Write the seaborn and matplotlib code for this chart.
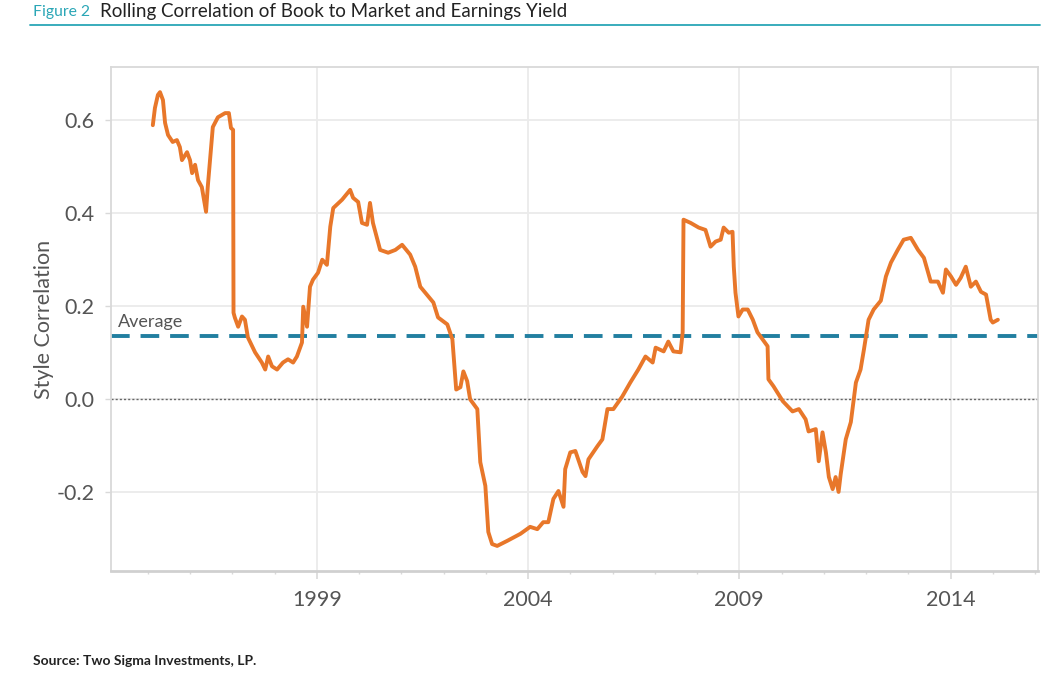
import numpy as np
import pandas as pd
import matplotlib
matplotlib.use("Agg")
import matplotlib.pyplot as plt
from matplotlib.lines import Line2D
from matplotlib.ticker import FuncFormatter, MultipleLocator
import seaborn as sns

# ---- data ----
years = [
    1995.12, 1995.17, 1995.24, 1995.29, 1995.36, 1995.41, 1995.48, 1995.59, 1995.69, 1995.76,
    1995.81, 1995.93, 1996.00, 1996.05, 1996.12, 1996.19, 1996.28, 1996.38, 1996.42, 1996.50,
    1996.54, 1996.66, 1996.83, 1996.92, 1996.97, 1997.02, 1997.03, 1997.06, 1997.14, 1997.23,
    1997.30, 1997.37, 1997.54, 1997.70, 1997.78, 1997.85, 1997.94, 1998.06, 1998.20, 1998.32,
    1998.44, 1998.53, 1998.65, 1998.68, 1998.77, 1998.84, 1998.91, 1999.03, 1999.13, 1999.24,
    1999.32, 1999.39, 1999.60, 1999.79, 1999.86, 1999.98, 2000.07, 2000.19, 2000.26, 2000.33,
    2000.50, 2000.69, 2000.86, 2001.02, 2001.21, 2001.33, 2001.45, 2001.76, 2001.87, 2002.09,
    2002.21, 2002.30, 2002.40, 2002.47, 2002.56, 2002.63, 2002.80, 2002.87, 2002.99, 2003.06,
    2003.15, 2003.27, 2003.51, 2003.82, 2004.05, 2004.22, 2004.36, 2004.48, 2004.60, 2004.72,
    2004.84, 2004.88, 2005.00, 2005.12, 2005.29, 2005.36, 2005.43, 2005.64, 2005.76, 2005.88,
    2006.02, 2006.23, 2006.42, 2006.61, 2006.78, 2006.95, 2007.02, 2007.21, 2007.32, 2007.44,
    2007.61, 2007.66, 2007.68, 2007.85, 2008.04, 2008.20, 2008.32, 2008.44, 2008.56, 2008.63,
    2008.75, 2008.84, 2008.87, 2008.91, 2008.98, 2009.08, 2009.20, 2009.32, 2009.43, 2009.55,
    2009.67, 2009.69, 2009.81, 2010.03, 2010.26, 2010.41, 2010.57, 2010.64, 2010.81, 2010.88,
    2010.97, 2011.05, 2011.12, 2011.21, 2011.28, 2011.35, 2011.40, 2011.52, 2011.64, 2011.76,
    2011.87, 2011.95, 2012.06, 2012.18, 2012.35, 2012.47, 2012.59, 2012.75, 2012.89, 2013.06,
    2013.23, 2013.37, 2013.53, 2013.70, 2013.82, 2013.89, 2014.01, 2014.13, 2014.24, 2014.36,
    2014.48, 2014.60, 2014.72, 2014.84, 2014.95, 2015.00, 2015.12,
]
correlation = [
    0.589, 0.626, 0.654, 0.660, 0.643, 0.594, 0.568, 0.553, 0.557, 0.542,
    0.514, 0.531, 0.514, 0.486, 0.504, 0.471, 0.456, 0.403, 0.456, 0.542,
    0.585, 0.606, 0.615, 0.615, 0.583, 0.579, 0.186, 0.176, 0.156, 0.178,
    0.171, 0.133, 0.101, 0.079, 0.064, 0.092, 0.071, 0.064, 0.079, 0.086,
    0.079, 0.092, 0.122, 0.199, 0.156, 0.242, 0.257, 0.272, 0.300, 0.289,
    0.371, 0.411, 0.429, 0.450, 0.433, 0.424, 0.379, 0.375, 0.422, 0.379,
    0.321, 0.315, 0.321, 0.332, 0.311, 0.285, 0.242, 0.208, 0.176, 0.161,
    0.129, 0.021, 0.026, 0.060, 0.039, 0.000, -0.021, -0.135, -0.186, -0.285,
    -0.311, -0.315, -0.304, -0.289, -0.274, -0.279, -0.264, -0.264, -0.214, -0.197,
    -0.231, -0.150, -0.114, -0.111, -0.156, -0.165, -0.129, -0.101, -0.086, -0.021,
    -0.021, 0.006, 0.036, 0.064, 0.092, 0.079, 0.111, 0.103, 0.124, 0.103,
    0.101, 0.144, 0.386, 0.379, 0.369, 0.364, 0.328, 0.339, 0.343, 0.369,
    0.358, 0.360, 0.285, 0.229, 0.178, 0.193, 0.193, 0.171, 0.144, 0.129,
    0.114, 0.043, 0.028, -0.004, -0.026, -0.021, -0.043, -0.069, -0.064, -0.133,
    -0.071, -0.114, -0.167, -0.193, -0.167, -0.199, -0.161, -0.086, -0.049, 0.036,
    0.064, 0.107, 0.171, 0.193, 0.212, 0.264, 0.294, 0.321, 0.343, 0.347,
    0.321, 0.304, 0.253, 0.253, 0.229, 0.279, 0.264, 0.246, 0.261, 0.285,
    0.242, 0.253, 0.231, 0.225, 0.171, 0.165, 0.171,
]
average_value = 0.137
x_ticks = [1999, 2004, 2009, 2014]
y_ticks = [-0.2, 0.0, 0.2, 0.4, 0.6]

df = pd.DataFrame({"year": years, "corr": correlation})

# ---- style ----
sns.set_theme(style="white")
plt.rcParams["font.family"] = ["Lato", "DejaVu Sans"]

ORANGE = "#e8772a"
TEAL = "#217fa0"
TITLE_TEAL = "#2aa6b6"
TXT = "#555555"
GRID = "#ebebeb"
SPINE = "#d9d9d9"

fig = plt.figure(figsize=(10.55, 6.75), dpi=100)
ax = fig.add_axes([0.1052, 0.154, 0.8787, 0.7467])

# grid
for xv in x_ticks:
    ax.axvline(xv, color=GRID, lw=1.3, zorder=0)
for yv in y_ticks:
    ax.axhline(yv, color=GRID, lw=1.3, zorder=0)

ax.axhline(0.0, color="#666666", lw=1.0, ls=(0, (1.5, 1.5)), zorder=1)
ax.axhline(average_value, color=TEAL, lw=2.8, ls=(0, (4.8, 2.8)), zorder=2)

sns.lineplot(data=df, x="year", y="corr", ax=ax, color=ORANGE, lw=2.8,
             zorder=3, legend=False)

ax.text(1994.3, average_value + 0.012, "Average", color=TXT, fontsize=13,
        ha="left", va="bottom")

ax.set_xlim(1994.13, 2016.07)
ax.set_ylim(-0.369, 0.714)
ax.set_xticks(x_ticks)
ax.set_xticklabels([str(v) for v in x_ticks])
ax.xaxis.set_minor_locator(MultipleLocator(1))
ax.set_yticks(y_ticks)
ax.yaxis.set_major_formatter(FuncFormatter(lambda v, p: f"{v:.1f}".replace("\u2212", "-")))

ax.tick_params(axis="x", which="major", length=6, width=1.2, color=SPINE,
               labelsize=15.5, labelcolor=TXT, pad=8, direction="out", bottom=True)
ax.tick_params(axis="x", which="minor", length=2, width=1, color=SPINE, bottom=True)
ax.tick_params(axis="y", which="major", length=4, width=1, color=SPINE,
               labelsize=15.5, labelcolor=TXT, pad=8, left=True)

for s in ax.spines.values():
    s.set_color(SPINE)
    s.set_linewidth(1.3)
    s.set_visible(True)
ax.spines["bottom"].set_color("#d0d0d0")
ax.spines["bottom"].set_linewidth(2)

ax.set_xlabel("")
ax.set_ylabel("Style Correlation", fontsize=15.5, color=TXT, labelpad=2)

# title
fig.text(33 / 1055, 1 - 12 / 675, "Figure 2", color=TITLE_TEAL, fontsize=11.3,
         ha="left", va="center")
fig.text(100 / 1055, 1 - 12 / 675, "Rolling Correlation of Book to Market and Earnings Yield",
         color="#222222", fontsize=13.5, ha="left", va="center")
fig.add_artist(Line2D([30 / 1055, 1040 / 1055], [1 - 25 / 675, 1 - 25 / 675],
                      color=TITLE_TEAL, lw=1.3, transform=fig.transFigure))

fig.text(33 / 1055, 1 - 661 / 675, "Source: Two Sigma Investments, LP.",
         color="#222222", fontsize=10, fontweight="bold", ha="left", va="center")

fig.savefig("out.png", dpi=100)
